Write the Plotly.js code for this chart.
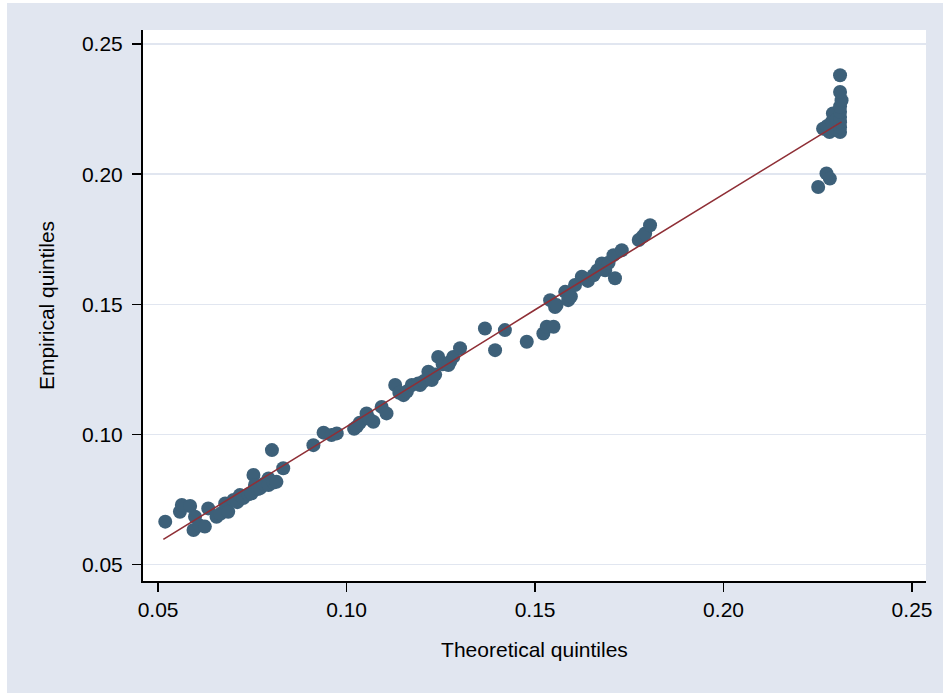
<!DOCTYPE html>
<html>
<head>
<meta charset="utf-8">
<script src="https://cdn.plot.ly/plotly-3.0.1.min.js"></script>
<style>html,body{margin:0;padding:0;background:#fff;}#chart{width:943px;height:693px;}</style>
</head>
<body>
<div id="chart"></div>
<script>
// Theoretical quantiles (x) and empirical quantiles (y)
const theoretical = [
  0.0519,0.0558,0.0563,0.0585,0.0594,0.0598,0.0610,0.0624,0.0633,0.0655,
  0.0665,0.0678,0.0686,0.0700,0.0710,0.0717,0.0726,0.0740,0.0748,0.0753,
  0.0757,0.0765,0.0771,0.0780,0.0793,0.0793,0.0802,0.0806,0.0814,0.0832,
  0.0912,0.0939,0.0960,0.0974,0.1020,0.1027,0.1035,0.1053,0.1060,0.1071,
  0.1093,0.1106,0.1129,0.1140,0.1151,0.1160,0.1173,0.1190,0.1195,0.1205,
  0.1217,0.1226,0.1235,0.1243,0.1255,0.1270,0.1275,0.1283,0.1301,0.1367,
  0.1394,0.1420,0.1478,0.1522,0.1531,0.1549,0.1540,0.1553,0.1557,0.1580,
  0.1588,0.1595,0.1606,0.1624,0.1640,0.1655,0.1665,0.1677,0.1686,0.1695,
  0.1708,0.1712,0.1730,0.1775,0.1785,0.1792,0.1805,
  0.2251,0.2273,0.2282,0.2264,0.2275,0.2281,0.2287,0.2290,0.2300,0.2300,
  0.2309,0.2309,0.2309,0.2309,0.2309,0.2309,0.2313,0.2309,0.2309
];
const empirical = [
  0.0665,0.0703,0.0729,0.0725,0.0633,0.0684,0.0650,0.0646,0.0716,0.0684,
  0.0695,0.0735,0.0703,0.0748,0.0740,0.0767,0.0756,0.0770,0.0774,0.0844,
  0.0806,0.0790,0.0794,0.0810,0.0831,0.0806,0.0940,0.0815,0.0818,0.0870,
  0.0959,0.1007,0.0998,0.1004,0.1022,0.1030,0.1045,0.1081,0.1060,0.1049,
  0.1106,0.1081,0.1190,0.1160,0.1151,0.1165,0.1190,0.1196,0.1190,0.1205,
  0.1241,0.1209,0.1230,0.1298,0.1270,0.1267,0.1280,0.1298,0.1331,0.1407,
  0.1324,0.1401,0.1356,0.1388,0.1414,0.1414,0.1516,0.1490,0.1497,0.1548,
  0.1516,0.1530,0.1574,0.1606,0.1590,0.1612,0.1630,0.1657,0.1631,0.1660,
  0.1689,0.1600,0.1708,0.1747,0.1760,0.1772,0.1804,
  0.1951,0.2003,0.1983,0.2175,0.2185,0.2162,0.2201,0.2233,0.2210,0.2170,
  0.2162,0.2180,0.2200,0.2220,0.2240,0.2260,0.2284,0.2316,0.2380
];
// Reference line
const refLineX = [0.0514, 0.1000, 0.1500, 0.2000, 0.2313];
const refLineY = [0.0597, 0.1030, 0.1479, 0.1924, 0.2201];

const tickVals = [0.05, 0.10, 0.15, 0.20, 0.25];
const tickText = ["0.05", "0.10", "0.15", "0.20", "0.25"];

const W = 943, H = 693;
const M = {l: 143, r: 17, t: 30, b: 112};
const PW = W - M.l - M.r, PH = H - M.t - M.b;
const px = v => (v - M.l) / PW;
const py = v => 1 - (v - M.t) / PH;

const font = "Liberation Sans, Arial, sans-serif";

const traces = [
  {
    x: theoretical, y: empirical, type: "scatter", mode: "markers",
    marker: {color: "#3d6079", size: 14, line: {width: 0}},
    hoverinfo: "x+y", showlegend: false
  },
  {
    x: refLineX, y: refLineY, type: "scatter", mode: "lines",
    line: {color: "#8f2f36", width: 1.6},
    hoverinfo: "skip", showlegend: false
  }
];

const layout = {
  width: W, height: H,
  margin: M,
  paper_bgcolor: "#e1e6f0",
  plot_bgcolor: "#ffffff",
  font: {family: font, size: 21, color: "#000"},
  showlegend: false,
  xaxis: {
    range: [0.0460, 0.2537],
    tickvals: tickVals, ticktext: tickText,
    ticks: "outside", ticklen: 9, tickwidth: 1.5, tickcolor: "#000",
    showline: true, linecolor: "#000", linewidth: 2,
    showgrid: false, zeroline: false,
    tickfont: {family: font, size: 21, color: "#000"},
    title: {text: "Theoretical quintiles", font: {family: font, size: 21, color: "#000"}, standoff: 22}
  },
  yaxis: {
    range: [0.0437, 0.2554],
    tickvals: tickVals, ticktext: tickText,
    ticks: "outside", ticklen: 9, tickwidth: 1.5, tickcolor: "#000",
    ticklabelstandoff: 5,
    showline: true, linecolor: "#000", linewidth: 2,
    showgrid: true, gridcolor: "#e1e6f0", gridwidth: 1.5,
    zeroline: false,
    tickfont: {family: font, size: 21, color: "#000"},
    title: {text: "Empirical quintiles", font: {family: font, size: 21, color: "#000"}, standoff: 22}
  },
  shapes: [
    {type: "rect", xref: "paper", yref: "paper", layer: "above",
     x0: px(0), x1: px(7), y0: py(H), y1: py(0), fillcolor: "#ffffff", line: {width: 0}},
    {type: "rect", xref: "paper", yref: "paper", layer: "above",
     x0: px(0), x1: px(W), y0: py(3), y1: py(0), fillcolor: "#ffffff", line: {width: 0}}
  ]
};

Plotly.newPlot("chart", traces, layout, {displayModeBar: false, staticPlot: true});
</script>
</body>
</html>
